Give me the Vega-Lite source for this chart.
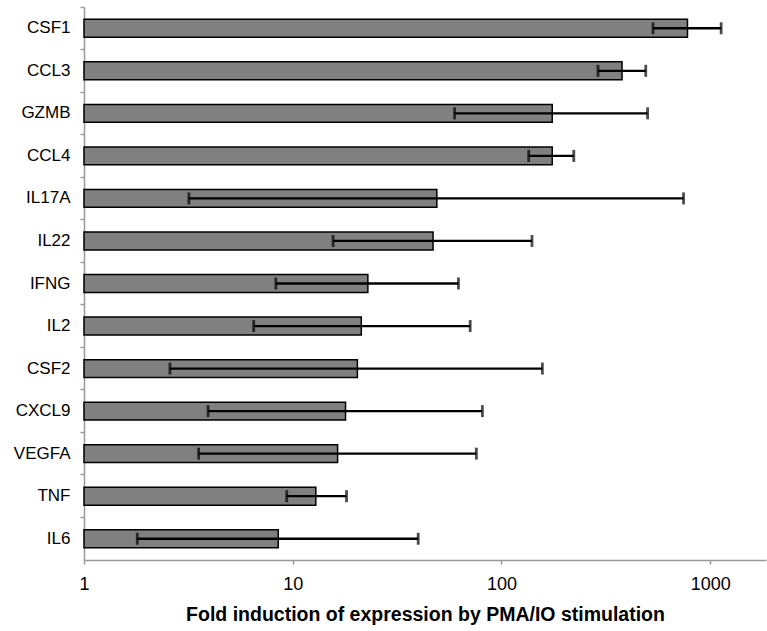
{
  "$schema": "https://vega.github.io/schema/vega-lite/v6.json",
  "autosize": "none",
  "padding": {"left": 84, "top": 7, "right": 1, "bottom": 71},
  "width": 682,
  "height": 553,
  "background": "white",
  "config": {
    "view": {"stroke": null},
    "font": "Liberation Sans",
    "axis": {"grid": false, "labelFont": "Liberation Sans", "titleFont": "Liberation Sans", "labelColor": "black", "titleColor": "black", "domainColor": "#999999", "tickColor": "#999999", "domainWidth": 1.5, "tickWidth": 1.5}
  },
  "data": {
    "values": [
      {"gene": "CSF1", "fold": 778, "low": 532, "high": 1128},
      {"gene": "CCL3", "fold": 378, "low": 290, "high": 491},
      {"gene": "GZMB", "fold": 175, "low": 59.6, "high": 501},
      {"gene": "CCL4", "fold": 175, "low": 135, "high": 222},
      {"gene": "IL17A", "fold": 49, "low": 3.18, "high": 745},
      {"gene": "IL22", "fold": 47, "low": 15.6, "high": 140},
      {"gene": "IFNG", "fold": 22.9, "low": 8.3, "high": 62.2},
      {"gene": "IL2", "fold": 21.3, "low": 6.5, "high": 70.8},
      {"gene": "CSF2", "fold": 20.4, "low": 2.58, "high": 157},
      {"gene": "CXCL9", "fold": 17.9, "low": 3.93, "high": 81},
      {"gene": "VEGFA", "fold": 16.4, "low": 3.54, "high": 75.8},
      {"gene": "TNF", "fold": 12.9, "low": 9.36, "high": 18.1},
      {"gene": "IL6", "fold": 8.52, "low": 1.8, "high": 39.9}
    ]
  },
  "encoding": {
    "y": {
      "field": "gene", "type": "nominal", "sort": null,
      "scale": {"paddingInner": 0, "paddingOuter": 0},
      "axis": {"title": null, "labelFontSize": 17, "labelPadding": 10, "tickSize": 4, "bandPosition": 0, "labelBound": false}
    }
  },
  "layer": [
    {
      "mark": {"type": "bar", "fill": "#808080", "stroke": "black", "strokeWidth": 1.5, "height": {"band": 0.42}},
      "encoding": {
        "x": {
          "field": "fold", "type": "quantitative",
          "scale": {"type": "log", "domain": [1, 1850], "nice": false, "clamp": false},
          "axis": {"title": "Fold induction of expression by PMA/IO stimulation", "titleFontSize": 19.5, "titleFontWeight": "bold", "titlePadding": 12, "labelFontSize": 18, "labelPadding": 11, "tickSize": 4, "values": [1, 10, 100, 1000], "format": "d", "labelFlush": false}
        },
        "x2": {"datum": 1}
      }
    },
    {
      "mark": {"type": "rule", "color": "black", "strokeWidth": 2.3},
      "encoding": {
        "x": {"field": "low", "type": "quantitative"},
        "x2": {"field": "high"}
      }
    },
    {
      "mark": {"type": "tick", "color": "black", "thickness": 2.8, "size": 12},
      "encoding": {"x": {"field": "low", "type": "quantitative"}}
    },
    {
      "mark": {"type": "tick", "color": "black", "thickness": 2.8, "size": 12},
      "encoding": {"x": {"field": "high", "type": "quantitative"}}
    }
  ]
}
